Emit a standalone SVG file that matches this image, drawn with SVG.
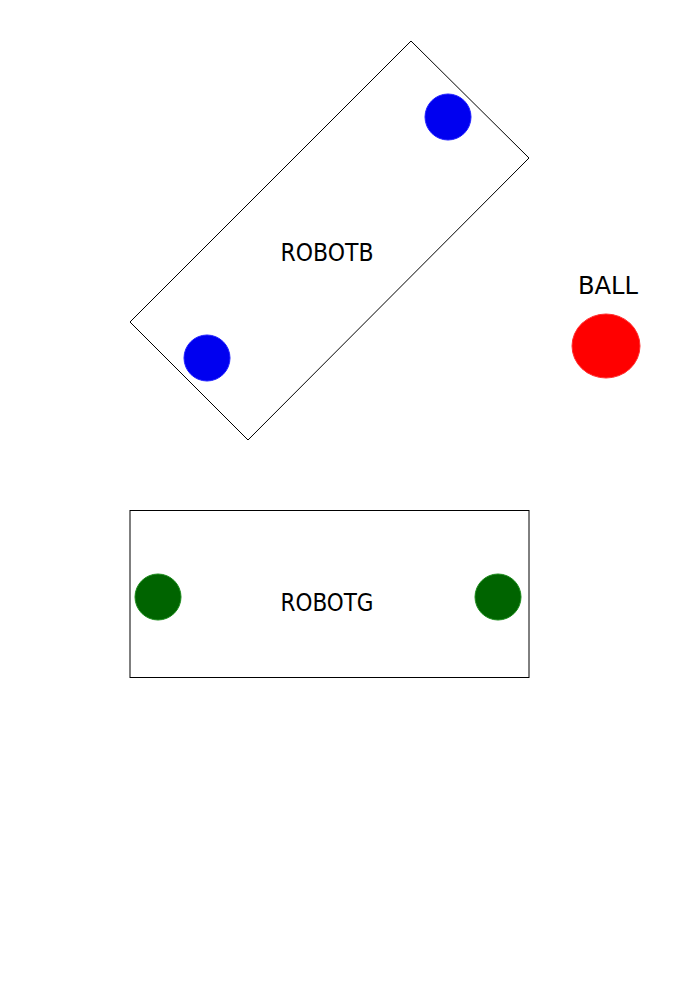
<svg xmlns="http://www.w3.org/2000/svg" width="694" height="982" viewBox="0 0 694 982">
<style>
.body{fill:#fff;stroke:#000;stroke-width:1}
.lbl{font-family:"DejaVu Sans","Liberation Sans",sans-serif;font-stretch:condensed;font-size:24px;fill:#000;text-anchor:middle}
.bw{fill:#0000f0;stroke:#2020ff;stroke-width:1}
.gw{fill:#006400;stroke:#1a8a1a;stroke-width:1}
</style>
<rect width="694" height="982" fill="#fff"/>
<g id="robotB">
<polygon class="body" points="411,41 529,158 248,440 130,322"/>
<circle class="bw" cx="448" cy="117" r="23"/>
<circle class="bw" cx="207" cy="358" r="23"/>
<text class="lbl" x="327" y="261" textLength="93" lengthAdjust="spacingAndGlyphs">ROBOTB</text>
</g>
<g id="robotG">
<rect class="body" x="130" y="510.5" width="399" height="167"/>
<circle class="gw" cx="158" cy="597" r="23"/>
<circle class="gw" cx="498" cy="597" r="23"/>
<text class="lbl" x="327" y="611" textLength="93" lengthAdjust="spacingAndGlyphs">ROBOTG</text>
</g>
<g id="ball">
<ellipse cx="606" cy="346" rx="34" ry="32" fill="#ff0000" stroke="#ff3030" stroke-width="1"/>
<text class="lbl" x="608" y="294" textLength="60" lengthAdjust="spacingAndGlyphs">BALL</text>
</g>
<g id="connectors"></g>
</svg>
